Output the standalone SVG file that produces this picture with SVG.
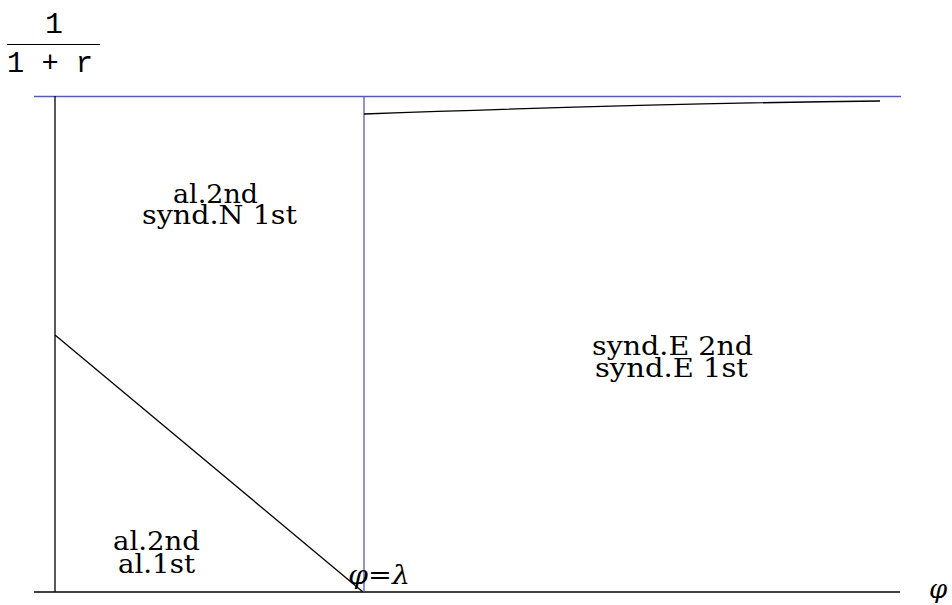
<svg xmlns="http://www.w3.org/2000/svg" width="952" height="605" viewBox="0 0 952 605">
<style>
.ax{stroke:#000;stroke-width:1.3;fill:none}
.bl{stroke:#5a5ab4;stroke-width:1.3;fill:none}
.mono{font-family:"Liberation Mono",monospace;font-size:30px;fill:#000}
</style>
<rect width="952" height="605" fill="#fff"/>
<g id="connectors">
<line class="bl" x1="34" y1="96.5" x2="901" y2="96.5"/>
<line class="ax" x1="55" y1="96" x2="55" y2="592"/>
<line class="ax" x1="34" y1="592" x2="900" y2="592"/>
<line class="bl" x1="364" y1="96" x2="364" y2="592"/>
<path class="ax" d="M364,114 C500,109 700,103 880,101"/>
<line class="ax" x1="55" y1="335" x2="363" y2="592"/>
<line stroke="#000" stroke-width="1" x1="7" y1="44.5" x2="100" y2="44.5"/>
</g>
<g id="ylabel">
<text class="mono" x="54" y="33" text-anchor="middle">1</text>
<text class="mono" x="7" y="72" textLength="86" lengthAdjust="spacingAndGlyphs">1 + r</text>
</g>
<g font-family="DejaVu Serif, serif" font-size="26" fill="#000">
<g id="region-a">
<text x="173" y="203" textLength="85" lengthAdjust="spacingAndGlyphs">al.2nd</text>
<text x="142" y="224" textLength="155" lengthAdjust="spacingAndGlyphs">synd.N 1st</text>
</g>
<g id="region-b">
<text x="592" y="355" textLength="161" lengthAdjust="spacingAndGlyphs">synd.E 2nd</text>
<text x="595" y="377" textLength="153" lengthAdjust="spacingAndGlyphs">synd.E 1st</text>
</g>
<g id="region-c">
<text x="113" y="550" textLength="87" lengthAdjust="spacingAndGlyphs">al.2nd</text>
<text x="118" y="573" textLength="77" lengthAdjust="spacingAndGlyphs">al.1st</text>
</g>
<g id="marks">
<text x="348" y="584" textLength="62" lengthAdjust="spacingAndGlyphs"><tspan font-style="italic">φ</tspan>=<tspan font-style="italic">λ</tspan></text>
<text x="929" y="598" font-style="italic">φ</text>
</g>
</g>
</svg>
